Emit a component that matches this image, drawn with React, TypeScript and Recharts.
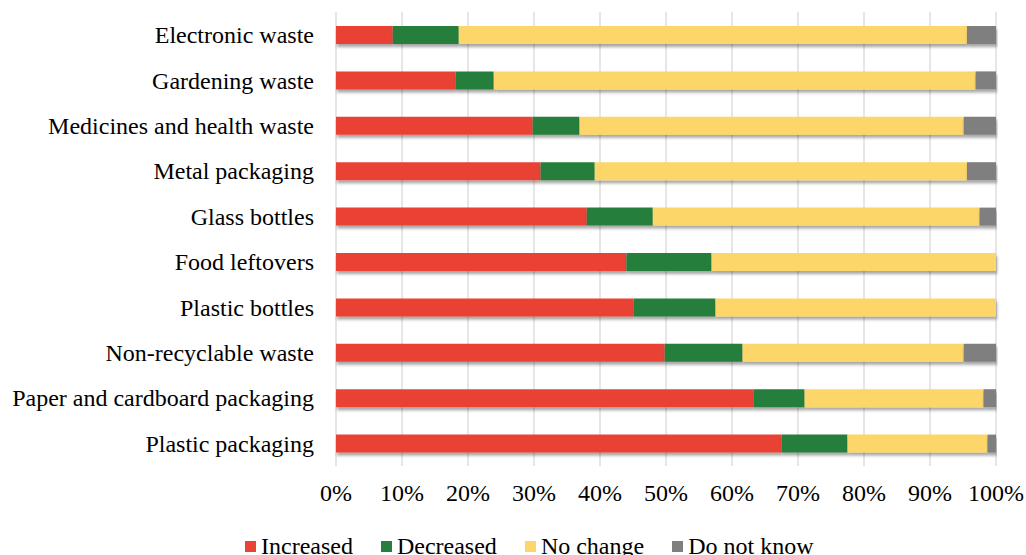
import React from 'react';
import { BarChart, Bar, XAxis, YAxis, CartesianGrid, Legend } from 'recharts';

const categories = [
  'Electronic waste',
  'Gardening waste',
  'Medicines and health waste',
  'Metal packaging',
  'Glass bottles',
  'Food leftovers',
  'Plastic bottles',
  'Non-recyclable waste',
  'Paper and cardboard packaging',
  'Plastic packaging',
];
const increased = [8.6, 18.1, 29.8, 31.0, 38.0, 44.0, 45.1, 49.8, 63.3, 67.5];
const decreased = [10.0, 5.8, 7.1, 8.2, 10.0, 12.9, 12.4, 11.8, 7.7, 10.0];
const noChange = [77.0, 73.0, 58.2, 56.4, 49.5, 43.1, 42.5, 33.5, 27.1, 21.2];
const doNotKnow = [4.4, 3.1, 4.9, 4.4, 2.5, 0, 0, 4.9, 1.9, 1.3];
const xTicks = [0, 10, 20, 30, 40, 50, 60, 70, 80, 90, 100];

const seriesNames = ['Increased', 'Decreased', 'No change', 'Do not know'];
const seriesKeys = ['increased', 'decreased', 'noChange', 'doNotKnow'];
const seriesColors = ['#E94335', '#287E3E', '#FDD66A', '#7F7F7F'];

const data = categories.map((c, i) => ({
  name: c,
  increased: increased[i],
  decreased: decreased[i],
  noChange: noChange[i],
  doNotKnow: doNotKnow[i],
}));

const FONT = "'Liberation Serif', 'Times New Roman', serif";

const renderLegend = () => (
  <div
    style={{
      display: 'flex',
      alignItems: 'center',
      paddingLeft: 245,
      height: 24,
      lineHeight: '24px',
      fontFamily: FONT,
      fontSize: 24,
      color: '#000',
      paddingTop: 6,
      boxSizing: 'border-box',
      whiteSpace: 'nowrap',
    }}
  >
    {seriesNames.map((n, i) => (
      <div key={n} style={{ display: 'flex', alignItems: 'center', marginRight: 28 }}>
        <span
          style={{
            display: 'inline-block',
            width: 11,
            height: 11,
            background: seriesColors[i],
            marginRight: 5,
          }}
        />
        <span>{n}</span>
      </div>
    ))}
  </div>
);

export default function App() {
  return (
    <div style={{ position: 'absolute', left: 0, top: 0, width: 1026, height: 555, background: '#fff', overflow: 'hidden' }}>
      <svg width={0} height={0} style={{ position: 'absolute' }}>
        <defs>
          <filter id="barShadow" x="-5%" y="-30%" width="110%" height="190%">
            <feDropShadow dx={1} dy={3} stdDeviation={1.8} floodColor="#000" floodOpacity={0.35} />
          </filter>
        </defs>
      </svg>
      <BarChart
        width={1026}
        height={555}
        data={data}
        layout="vertical"
        margin={{ top: 12, right: 30, left: 0, bottom: 0 }}
        barCategoryGap="60%"
      >
        <CartesianGrid horizontal={false} stroke="#d9d9d9" strokeWidth={1.3} />
        <XAxis
          type="number"
          domain={[0, 100]}
          ticks={xTicks}
          tickFormatter={(v) => `${v}%`}
          axisLine={false}
          tickLine={false}
          tickSize={0}
          tickMargin={18}
          height={65}
          interval={0}
          tick={{ fill: '#000', fontSize: 24, fontFamily: FONT }}
        />
        <YAxis
          type="category"
          dataKey="name"
          width={336}
          axisLine={false}
          tickLine={false}
          tickSize={0}
          tickMargin={22}
          interval={0}
          tick={{ fill: '#000', fontSize: 24, fontFamily: FONT }}
        />
        <Legend verticalAlign="bottom" content={renderLegend} wrapperStyle={{ left: 0, width: 1026, height: 24 }} />
        {seriesKeys.map((k, i) => (
          <Bar
            key={k}
            dataKey={k}
            name={seriesNames[i]}
            stackId="a"
            fill={seriesColors[i]}
            barSize={18}
            isAnimationActive={false}
            style={{ filter: 'url(#barShadow)' }}
          />
        ))}
      </BarChart>
    </div>
  );
}
